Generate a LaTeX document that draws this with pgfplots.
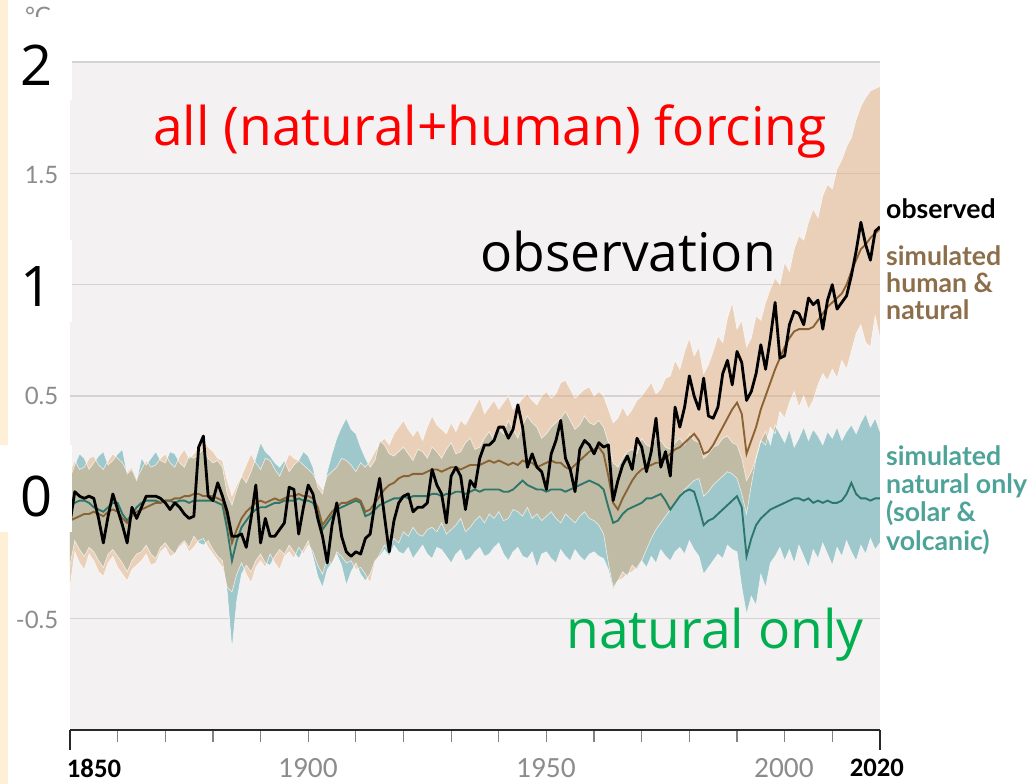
\documentclass[border=0pt]{standalone}
\usepackage{fontspec}
\usepackage{pgfplots}
\pgfplotsset{compat=1.18}
\usepackage{pgfplotstable}
\usepgfplotslibrary{fillbetween}
\setmainfont{Open Sans}
\newfontfamily\lato{Lato}
\newfontfamily\carl{Carlito}

\definecolor{bgcol}{RGB}{243,241,242}
\definecolor{gridcol}{RGB}{212,210,211}
\definecolor{cream}{RGB}{254,240,214}
\definecolor{tanc}{RGB}{226,176,128}
\definecolor{tealc}{RGB}{158,200,203}
\definecolor{brownl}{RGB}{139,98,52}
\definecolor{teall}{RGB}{44,118,108}
\definecolor{browntext}{RGB}{140,110,74}
\definecolor{tealtext}{RGB}{78,163,153}
\definecolor{labgray}{RGB}{140,140,140}
\definecolor{axdark}{RGB}{40,40,40}
\definecolor{tickgray}{RGB}{130,130,130}
\definecolor{natgreen}{RGB}{0,176,80}

\pgfplotstableread{
yr obs hn nat
1850 -0.07 -0.06 0.00
1851 0.07 -0.05 0.02
1852 0.05 -0.04 0.03
1853 0.04 -0.03 0.03
1854 0.05 -0.03 0.02
1855 0.04 -0.02 0.00
1856 -0.05 -0.03 -0.01
1857 -0.16 -0.04 -0.02
1858 -0.04 -0.02 0.00
1859 0.06 -0.01 0.02
1860 -0.01 -0.02 0.02
1861 -0.08 -0.05 -0.03
1862 -0.16 -0.07 -0.06
1863 0.00 -0.04 -0.03
1864 -0.05 -0.02 0.00
1865 0.00 -0.01 0.02
1866 0.05 0.00 0.03
1867 0.05 0.01 0.03
1868 0.05 0.02 0.03
1869 0.04 0.02 0.02
1870 0.02 0.03 0.03
1871 -0.01 0.03 0.03
1872 0.02 0.04 0.02
1873 0.00 0.04 0.03
1874 -0.03 0.05 0.03
1875 -0.05 0.05 0.02
1876 -0.04 0.06 0.03
1877 0.27 0.06 0.03
1878 0.32 0.05 0.03
1879 0.05 0.05 0.03
1880 0.03 0.05 0.03
1881 0.11 0.04 0.02
1882 0.05 0.03 0.01
1883 -0.02 -0.05 -0.10
1884 -0.13 -0.16 -0.24
1885 -0.13 -0.10 -0.15
1886 -0.12 -0.05 -0.09
1887 -0.18 -0.02 -0.06
1888 -0.05 0.00 -0.03
1889 0.10 0.02 -0.01
1890 -0.16 0.03 0.00
1891 -0.05 0.02 0.00
1892 -0.13 0.03 0.01
1893 -0.13 0.04 0.02
1894 -0.10 0.03 0.02
1895 -0.07 0.04 0.03
1896 0.09 0.05 0.03
1897 0.08 0.05 0.03
1898 -0.12 0.06 0.04
1899 0.00 0.05 0.03
1900 0.10 0.05 0.03
1901 0.06 0.04 0.02
1902 -0.05 0.00 -0.03
1903 -0.13 -0.08 -0.10
1904 -0.25 -0.05 -0.07
1905 -0.08 -0.02 -0.04
1906 0.02 0.00 -0.01
1907 -0.13 0.02 0.00
1908 -0.20 0.02 0.01
1909 -0.22 0.03 0.02
1910 -0.20 0.04 0.03
1911 -0.21 0.03 0.02
1912 -0.14 -0.02 -0.04
1913 -0.12 -0.01 -0.03
1914 0.02 0.02 -0.01
1915 0.13 0.05 0.01
1916 -0.04 0.08 0.02
1917 -0.20 0.10 0.03
1918 -0.06 0.11 0.04
1919 0.02 0.13 0.04
1920 0.05 0.14 0.05
1921 0.06 0.14 0.04
1922 -0.02 0.15 0.05
1923 0.00 0.15 0.05
1924 0.00 0.15 0.05
1925 0.02 0.16 0.05
1926 0.17 0.17 0.06
1927 0.10 0.17 0.06
1928 0.06 0.16 0.05
1929 -0.07 0.17 0.06
1930 0.14 0.18 0.06
1931 0.18 0.18 0.07
1932 0.14 0.17 0.07
1933 -0.01 0.18 0.06
1934 0.12 0.19 0.07
1935 0.09 0.19 0.08
1936 0.22 0.19 0.07
1937 0.28 0.20 0.08
1938 0.28 0.21 0.08
1939 0.30 0.20 0.08
1940 0.36 0.21 0.08
1941 0.36 0.20 0.07
1942 0.31 0.19 0.07
1943 0.35 0.20 0.08
1944 0.46 0.19 0.10
1945 0.36 0.21 0.12
1946 0.18 0.20 0.10
1947 0.24 0.20 0.09
1948 0.18 0.18 0.08
1949 0.16 0.19 0.08
1950 0.08 0.20 0.07
1951 0.24 0.21 0.08
1952 0.30 0.20 0.08
1953 0.39 0.20 0.08
1954 0.22 0.18 0.07
1955 0.17 0.17 0.08
1956 0.07 0.19 0.09
1957 0.26 0.21 0.10
1958 0.30 0.23 0.11
1959 0.28 0.25 0.12
1960 0.24 0.26 0.11
1961 0.29 0.27 0.10
1962 0.27 0.24 0.08
1963 0.28 0.14 0.00
1964 0.03 0.02 -0.07
1965 0.12 -0.01 -0.06
1966 0.19 0.04 -0.03
1967 0.23 0.08 -0.01
1968 0.17 0.12 0.00
1969 0.31 0.15 0.01
1970 0.27 0.17 0.02
1971 0.16 0.18 0.04
1972 0.25 0.19 0.04
1973 0.40 0.20 0.05
1974 0.18 0.20 0.06
1975 0.25 0.22 0.03
1976 0.14 0.24 -0.01
1977 0.45 0.26 0.02
1978 0.36 0.27 0.05
1979 0.45 0.29 0.07
1980 0.59 0.31 0.08
1981 0.50 0.33 0.07
1982 0.44 0.30 0.00
1983 0.58 0.24 -0.08
1984 0.41 0.25 -0.06
1985 0.40 0.28 -0.05
1986 0.45 0.32 -0.03
1987 0.60 0.36 -0.01
1988 0.66 0.40 0.01
1989 0.55 0.44 0.03
1990 0.70 0.47 0.05
1991 0.65 0.42 0.00
1992 0.48 0.24 -0.22
1993 0.52 0.30 -0.14
1994 0.60 0.36 -0.08
1995 0.73 0.44 -0.05
1996 0.62 0.50 -0.03
1997 0.76 0.56 -0.01
1998 0.92 0.62 0.00
1999 0.67 0.67 0.01
2000 0.68 0.72 0.02
2001 0.82 0.76 0.03
2002 0.88 0.79 0.04
2003 0.87 0.80 0.04
2004 0.82 0.80 0.03
2005 0.94 0.80 0.04
2006 0.91 0.81 0.02
2007 0.93 0.84 0.03
2008 0.80 0.87 0.02
2009 0.93 0.90 0.03
2010 1.00 0.92 0.02
2011 0.89 0.94 0.02
2012 0.92 0.96 0.03
2013 0.95 1.00 0.06
2014 1.04 1.06 0.11
2015 1.15 1.11 0.06
2016 1.28 1.16 0.04
2017 1.18 1.18 0.04
2018 1.11 1.21 0.03
2019 1.24 1.23 0.04
2020 1.26 1.25 0.04
}\lines

\pgfplotstableread{
yr tu tl nu nl
1850 0.16 -0.36 0.13 -0.26
1851 0.21 -0.20 0.19 -0.15
1852 0.17 -0.25 0.24 -0.19
1853 0.18 -0.28 0.22 -0.22
1854 0.22 -0.21 0.17 -0.18
1855 0.23 -0.24 0.20 -0.20
1856 0.19 -0.29 0.23 -0.24
1857 0.17 -0.31 0.25 -0.27
1858 0.21 -0.25 0.19 -0.21
1859 0.24 -0.22 0.21 -0.19
1860 0.22 -0.27 0.24 -0.22
1861 0.20 -0.30 0.26 -0.25
1862 0.16 -0.33 0.15 -0.29
1863 0.18 -0.28 0.17 -0.24
1864 0.13 -0.26 0.12 -0.21
1865 0.17 -0.24 0.22 -0.20
1866 0.21 -0.21 0.19 -0.17
1867 0.18 -0.26 0.22 -0.21
1868 0.19 -0.25 0.25 -0.23
1869 0.22 -0.20 0.21 -0.18
1870 0.24 -0.18 0.20 -0.16
1871 0.20 -0.22 0.25 -0.19
1872 0.18 -0.21 0.24 -0.21
1873 0.23 -0.18 0.20 -0.17
1874 0.26 -0.16 0.18 -0.15
1875 0.22 -0.20 0.23 -0.18
1876 0.24 -0.18 0.22 -0.13
1877 0.27 -0.15 0.24 -0.16
1878 0.30 -0.14 0.26 -0.17
1879 0.27 -0.18 0.22 -0.15
1880 0.25 -0.21 0.20 -0.19
1881 0.22 -0.24 0.21 -0.22
1882 0.21 -0.27 0.18 -0.24
1883 0.12 -0.36 0.06 -0.38
1884 0.05 -0.38 0.01 -0.64
1885 0.10 -0.30 0.08 -0.42
1886 0.14 -0.25 0.14 -0.30
1887 0.19 -0.30 0.11 -0.26
1888 0.24 -0.34 0.16 -0.29
1889 0.20 -0.27 0.22 -0.24
1890 0.17 -0.24 0.29 -0.21
1891 0.22 -0.27 0.25 -0.25
1892 0.21 -0.21 0.23 -0.26
1893 0.17 -0.25 0.20 -0.22
1894 0.14 -0.28 0.18 -0.19
1895 0.19 -0.22 0.21 -0.21
1896 0.24 -0.20 0.16 -0.17
1897 0.22 -0.23 0.19 -0.20
1898 0.21 -0.18 0.21 -0.23
1899 0.19 -0.21 0.25 -0.19
1900 0.17 -0.17 0.23 -0.15
1901 0.15 -0.20 0.18 -0.22
1902 0.11 -0.26 0.09 -0.31
1903 0.08 -0.30 0.06 -0.36
1904 0.14 -0.23 0.16 -0.28
1905 0.16 -0.26 0.24 -0.25
1906 0.18 -0.20 0.31 -0.21
1907 0.22 -0.22 0.36 -0.26
1908 0.21 -0.25 0.40 -0.35
1909 0.19 -0.24 0.35 -0.29
1910 0.16 -0.28 0.33 -0.25
1911 0.20 -0.27 0.27 -0.30
1912 0.18 -0.30 0.22 -0.33
1913 0.21 -0.34 0.18 -0.30
1914 0.25 -0.25 0.21 -0.24
1915 0.29 -0.21 0.30 -0.22
1916 0.31 -0.17 0.28 -0.19
1917 0.28 -0.19 0.24 -0.22
1918 0.33 -0.14 0.23 -0.17
1919 0.36 -0.16 0.25 -0.20
1920 0.39 -0.11 0.27 -0.21
1921 0.35 -0.13 0.24 -0.18
1922 0.32 -0.09 0.21 -0.23
1923 0.35 -0.12 0.26 -0.20
1924 0.30 -0.13 0.25 -0.17
1925 0.36 -0.10 0.22 -0.21
1926 0.41 -0.09 0.27 -0.23
1927 0.37 -0.11 0.25 -0.18
1928 0.35 -0.07 0.22 -0.19
1929 0.33 -0.12 0.26 -0.22
1930 0.38 -0.10 0.29 -0.25
1931 0.34 -0.08 0.24 -0.21
1932 0.39 -0.05 0.25 -0.19
1933 0.37 -0.11 0.29 -0.24
1934 0.41 -0.09 0.31 -0.23
1935 0.45 -0.06 0.26 -0.20
1936 0.49 -0.04 0.27 -0.18
1937 0.42 -0.07 0.31 -0.22
1938 0.45 -0.03 0.34 -0.21
1939 0.48 -0.05 0.30 -0.18
1940 0.44 -0.02 0.35 -0.16
1941 0.47 -0.06 0.33 -0.21
1942 0.50 -0.05 0.39 -0.24
1943 0.44 -0.01 0.35 -0.20
1944 0.46 -0.02 0.31 -0.18
1945 0.49 -0.04 0.37 -0.22
1946 0.51 0.00 0.41 -0.23
1947 0.48 -0.05 0.38 -0.20
1948 0.46 -0.03 0.36 -0.27
1949 0.50 -0.06 0.31 -0.21
1950 0.52 -0.04 0.33 -0.20
1951 0.49 -0.02 0.36 -0.23
1952 0.51 -0.05 0.38 -0.25
1953 0.56 -0.07 0.40 -0.19
1954 0.57 -0.03 0.43 -0.22
1955 0.53 -0.05 0.39 -0.24
1956 0.49 -0.07 0.35 -0.19
1957 0.51 -0.04 0.37 -0.22
1958 0.53 -0.02 0.41 -0.24
1959 0.54 -0.05 0.38 -0.21
1960 0.50 -0.06 0.37 -0.20
1961 0.52 -0.08 0.39 -0.22
1962 0.50 -0.12 0.36 -0.23
1963 0.44 -0.25 0.29 -0.28
1964 0.38 -0.36 0.20 -0.37
1965 0.40 -0.33 0.18 -0.33
1966 0.45 -0.32 0.22 -0.29
1967 0.41 -0.30 0.25 -0.31
1968 0.44 -0.29 0.26 -0.26
1969 0.48 -0.27 0.24 -0.28
1970 0.50 -0.24 0.31 -0.24
1971 0.53 -0.19 0.28 -0.27
1972 0.56 -0.14 0.27 -0.22
1973 0.51 -0.10 0.31 -0.25
1974 0.53 -0.07 0.30 -0.19
1975 0.58 -0.04 0.27 -0.22
1976 0.59 -0.01 0.26 -0.24
1977 0.66 0.02 0.29 -0.20
1978 0.62 0.05 0.31 -0.18
1979 0.70 0.08 0.28 -0.21
1980 0.76 0.10 0.33 -0.15
1981 0.68 0.12 0.30 -0.19
1982 0.72 0.13 0.29 -0.22
1983 0.60 0.05 0.22 -0.30
1984 0.64 0.07 0.24 -0.27
1985 0.70 0.10 0.27 -0.24
1986 0.77 0.12 0.28 -0.21
1987 0.74 0.14 0.31 -0.23
1988 0.85 0.16 0.32 -0.17
1989 0.92 0.15 0.29 -0.19
1990 0.80 0.13 0.28 -0.20
1991 0.84 0.06 0.22 -0.36
1992 0.72 -0.03 0.12 -0.48
1993 0.76 0.10 0.16 -0.40
1994 0.86 0.22 0.22 -0.44
1995 0.84 0.30 0.30 -0.30
1996 0.92 0.28 0.34 -0.36
1997 0.98 0.36 0.28 -0.25
1998 1.03 0.33 0.37 -0.22
1999 1.00 0.43 0.33 -0.18
2000 1.10 0.40 0.29 -0.24
2001 1.06 0.47 0.35 -0.19
2002 1.16 0.52 0.27 -0.25
2003 1.22 0.45 0.31 -0.17
2004 1.20 0.50 0.36 -0.22
2005 1.28 0.44 0.30 -0.27
2006 1.34 0.48 0.35 -0.19
2007 1.30 0.55 0.32 -0.23
2008 1.40 0.60 0.28 -0.16
2009 1.45 0.57 0.34 -0.21
2010 1.43 0.62 0.31 -0.26
2011 1.52 0.58 0.36 -0.18
2012 1.56 0.66 0.30 -0.22
2013 1.62 0.62 0.34 -0.15
2014 1.66 0.70 0.37 -0.20
2015 1.74 0.78 0.33 -0.24
2016 1.80 0.82 0.38 -0.17
2017 1.84 0.74 0.42 -0.21
2018 1.87 0.72 0.36 -0.14
2019 1.88 0.86 0.40 -0.19
2020 1.89 0.76 0.34 -0.16
}\bands

\begin{document}
\begin{tikzpicture}
\begin{scope}[x=0.75pt,y=0.75pt]
\fill[cream] (0,0) rectangle (8,784);
\path[use as bounding box] (0,0) rectangle (1027,784);
\end{scope}
\begin{axis}[
  at={(52.5pt,40.5pt)}, anchor=south west,
  scale only axis, width=607.5pt, height=501pt,
  xmin=1850, xmax=2020, ymin=-1, ymax=2,
  axis background/.style={fill=bgcol},
  axis x line*=bottom, axis y line*=left,
  y axis line style={draw=none},
  x axis line style={-, line width=1.5pt, color=axdark},
  xtick={1850,1860,...,2020}, xticklabels={},
  ytick={-0.5,0,0.5,1,1.5,2}, yticklabels={},
  ymajorgrids, grid style={gridcol, line width=1pt},
  tick align=outside, major tick length=9pt,
  x tick style={color=tickgray, line width=0.9pt},
  y tick style={draw=none},
  extra x ticks={1850,2020}, extra x tick labels={},
  extra x tick style={major tick length=15pt, x tick style={color=axdark, line width=1.3pt}},
]
\addplot[name path=nu, white, line width=0.5pt, opacity=0.7] table[x=yr,y=nu]{\bands};
\addplot[name path=nl, white, line width=0.5pt, opacity=0.7] table[x=yr,y=nl]{\bands};
\addplot[fill=tealc, draw=none] fill between[of=nu and nl];
\addplot[name path=tu, white, line width=0.5pt, opacity=0.7] table[x=yr,y=tu]{\bands};
\addplot[name path=tl, white, line width=0.5pt, opacity=0.7] table[x=yr,y=tl]{\bands};
\addplot[fill=tanc, fill opacity=0.5, draw=none] fill between[of=tu and tl];
\addplot[teall, line width=1.4pt] table[x=yr,y=nat]{\lines};
\addplot[brownl, line width=1.4pt] table[x=yr,y=hn]{\lines};
\addplot[black, line width=2.1pt, line join=round] table[x=yr,y=obs]{\lines};
\end{axis}
\begin{scope}[x=0.75pt,y=0.75pt]
\node[text=labgray, font=\lato\fontsize{18}{18}\selectfont] at (38,768) {°C};
\fill[white] (8,684) rectangle (72,767);
\fill[white] (8,462) rectangle (72,544);
\fill[white] (0,252) rectangle (72,339);
\node[font=\fontsize{42}{42}\selectfont] at (37,719) {2};
\node[font=\fontsize{42}{42}\selectfont] at (37,497) {1};
\node[font=\fontsize{42}{42}\selectfont] at (37,287) {0};
\node[anchor=east, text=labgray, font=\lato\fontsize{18}{18}\selectfont] at (63,609) {1.5};
\node[anchor=east, text=labgray, font=\lato\fontsize{18}{18}\selectfont] at (63,388) {0.5};
\node[anchor=east, text=labgray, font=\lato\fontsize{18}{18}\selectfont] at (63,164) {-0.5};
\node[font=\carl\bfseries\fontsize{20}{20}\selectfont] at (94,16) {1850};
\node[text=labgray, font=\carl\fontsize{22}{22}\selectfont] at (308,16) {1900};
\node[text=labgray, font=\carl\fontsize{22}{22}\selectfont] at (546,16) {1950};
\node[text=labgray, font=\carl\fontsize{22}{22}\selectfont] at (784,16) {2000};
\node[font=\carl\bfseries\fontsize{20}{20}\selectfont] at (877,16) {2020};
\node[anchor=base, text=red, font=\fontsize{40}{40}\selectfont, inner sep=0] at (490,638) {all (natural+human) forcing};
\node[anchor=base, text=black, font=\fontsize{40}{40}\selectfont, inner sep=0] at (628,512) {observation};
\node[anchor=base, text=natgreen, font=\fontsize{40}{40}\selectfont, inner sep=0] at (715,135) {natural only};
\node[anchor=base west, inner sep=0, font=\lato\bfseries\fontsize{20}{20}\selectfont] at (886,565) {observed};
\node[anchor=base west, inner sep=0, text=browntext, font=\lato\bfseries\fontsize{20}{20}\selectfont] at (886,518) {simulated};
\node[anchor=base west, inner sep=0, text=browntext, font=\lato\bfseries\fontsize{20}{20}\selectfont] at (886,491) {human \&};
\node[anchor=base west, inner sep=0, text=browntext, font=\lato\bfseries\fontsize{20}{20}\selectfont] at (886,464) {natural};
\node[anchor=base west, inner sep=0, text=tealtext, font=\lato\bfseries\fontsize{20}{20}\selectfont] at (886,318) {simulated};
\node[anchor=base west, inner sep=0, text=tealtext, font=\lato\bfseries\fontsize{20}{20}\selectfont] at (886,290) {natural only};
\node[anchor=base west, inner sep=0, text=tealtext, font=\lato\bfseries\fontsize{20}{20}\selectfont] at (886,262) {(solar \&};
\node[anchor=base west, inner sep=0, text=tealtext, font=\lato\bfseries\fontsize{20}{20}\selectfont] at (886,233) {volcanic)};
\end{scope}
\end{tikzpicture}
\end{document}
